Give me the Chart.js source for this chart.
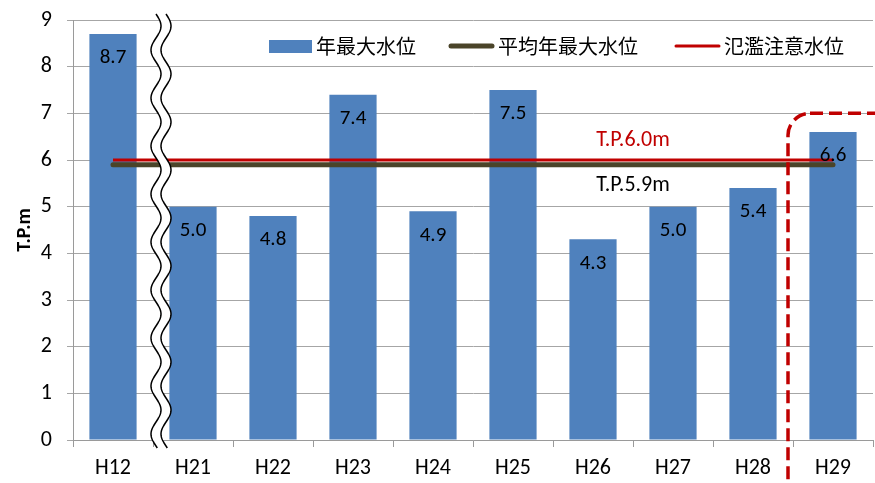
<!DOCTYPE html>
<html>
<head>
<meta charset="utf-8">
<script src="https://cdn.jsdelivr.net/npm/chart.js@4"></script>
<style>
  html, body { margin: 0; padding: 0; background: #fff; }
  #wrap { width: 875px; height: 483px; position: relative; }
</style>
</head>
<body>
<div id="wrap"><canvas id="c" width="875" height="483"></canvas></div>
<script>
// Annual maximum water level by year (T.P. m)
const categories = ['H12', 'H21', 'H22', 'H23', 'H24', 'H25', 'H26', 'H27', 'H28', 'H29'];
const maxLevels = [8.7, 5.0, 4.8, 7.4, 4.9, 7.5, 4.3, 5.0, 5.4, 6.6];
const averageLevel = 5.9;        // average of annual maximum
const floodWarningLevel = 6.0;   // flood warning level
const yTickValues = [0, 1, 2, 3, 4, 5, 6, 7, 8, 9];

const BAR_BLUE = '#4F81BD';
const OLIVE = '#4A4429';
const RED = '#C00000';
const LABEL_FONT = "Carlito, 'Liberation Sans', 'Noto Sans', sans-serif";
const JP_FONT = "'Noto Sans CJK JP', 'Noto Sans', sans-serif";

// Value labels inside the top of each bar
const barLabels = {
  id: 'barLabels',
  afterDatasetsDraw(chart) {
    const ctx = chart.ctx;
    const meta = chart.getDatasetMeta(0);
    ctx.save();
    ctx.font = '21px ' + LABEL_FONT;
    ctx.fillStyle = '#000';
    ctx.textAlign = 'center';
    ctx.textBaseline = 'middle';
    meta.data.forEach((bar, i) => {
      ctx.fillText(maxLevels[i].toFixed(1), bar.x, bar.y + 24);
    });
    ctx.restore();
  }
};

// Level captions, break mark, highlight frame and legend
const decorations = {
  id: 'decorations',
  afterDraw(chart) {
    const ctx = chart.ctx;
    const xs = chart.scales.x;
    const ys = chart.scales.y;
    const area = chart.chartArea;
    const px = i => xs.getPixelForValue(i);

    // captions for the two horizontal levels
    ctx.save();
    ctx.font = '22px ' + LABEL_FONT;
    ctx.textAlign = 'center';
    ctx.textBaseline = 'middle';
    const capX = (px(6) + px(7)) / 2;
    ctx.fillStyle = RED;
    ctx.fillText('T.P.' + floodWarningLevel.toFixed(1) + 'm', capX, ys.getPixelForValue(floodWarningLevel) - 20);
    ctx.fillStyle = '#000';
    ctx.fillText('T.P.' + averageLevel.toFixed(1) + 'm', capX, ys.getPixelForValue(averageLevel) + 21);
    ctx.restore();

    // wavy axis break between H12 and H21
    const cx = (px(0) + px(1)) / 2 + 8;
    const y0 = area.top - 6, y1 = area.bottom + 8;
    const wave = (y, off) => cx + off + 5 * Math.sin((y - y0) / 48 * Math.PI * 2);
    ctx.save();
    ctx.beginPath();
    for (let y = y0; y <= y1; y += 1) {
      const x = wave(y, -5);
      if (y === y0) ctx.moveTo(x, y); else ctx.lineTo(x, y);
    }
    for (let y = y1; y >= y0; y -= 1) ctx.lineTo(wave(y, 5), y);
    ctx.closePath();
    ctx.fillStyle = '#fff';
    ctx.fill();
    ctx.strokeStyle = '#000';
    ctx.lineWidth = 1.5;
    [-5, 5].forEach(off => {
      ctx.beginPath();
      for (let y = y0; y <= y1; y += 1) {
        const x = wave(y, off);
        if (y === y0) ctx.moveTo(x, y); else ctx.lineTo(x, y);
      }
      ctx.stroke();
    });
    ctx.restore();

    // dashed rounded frame around the latest year
    ctx.save();
    const fx = (px(8) + px(9)) / 2 - 5;
    const fy = ys.getPixelForValue(7);
    ctx.strokeStyle = RED;
    ctx.lineWidth = 3.5;
    ctx.setLineDash([13, 6]);
    ctx.beginPath();
    ctx.roundRect(fx, fy, 140, 420, 22);
    ctx.stroke();
    ctx.restore();

    // legend
    ctx.save();
    ctx.font = '20px ' + JP_FONT;
    ctx.fillStyle = '#000';
    ctx.textBaseline = 'middle';
    const ly = 46;
    const ds = chart.data.datasets;
    ctx.fillStyle = ds[0].backgroundColor;
    ctx.fillRect(269, ly - 6, 43, 13);
    ctx.fillStyle = '#000';
    ctx.fillText(ds[0].label, 316, ly);
    ctx.lineCap = 'round';
    ctx.strokeStyle = ds[1].borderColor;
    ctx.lineWidth = 5;
    ctx.beginPath(); ctx.moveTo(451, ly); ctx.lineTo(492, ly); ctx.stroke();
    ctx.fillText(ds[1].label, 498, ly);
    ctx.strokeStyle = ds[2].borderColor;
    ctx.lineWidth = 3;
    ctx.beginPath(); ctx.moveTo(676, ly); ctx.lineTo(719, ly); ctx.stroke();
    ctx.fillText(ds[2].label, 724, ly);
    ctx.restore();
  }
};

new Chart(document.getElementById('c'), {
  data: {
    labels: categories,
    datasets: [
      {
        type: 'bar',
        label: '年最大水位',
        data: maxLevels,
        backgroundColor: BAR_BLUE,
        borderWidth: 0,
        barPercentage: 0.59,
        categoryPercentage: 1.0,
        order: 3
      },
      {
        type: 'line',
        label: '平均年最大水位',
        data: categories.map(() => averageLevel),
        borderColor: OLIVE,
        borderWidth: 5,
        borderCapStyle: 'round',
        pointRadius: 0,
        order: 2
      },
      {
        type: 'line',
        label: '氾濫注意水位',
        data: categories.map(() => floodWarningLevel),
        borderColor: RED,
        borderWidth: 3,
        pointRadius: 0,
        order: 1
      }
    ]
  },
  options: {
    responsive: false,
    animation: false,
    events: [],
    layout: { padding: { top: 20, right: 2, left: 0, bottom: 0 } },
    plugins: {
      legend: { display: false },
      tooltip: { enabled: false },
      title: { display: false }
    },
    scales: {
      x: {
        type: 'category',
        offset: true,
        grid: { offset: true, drawOnChartArea: false, drawTicks: true, tickLength: 7, color: '#9A9A9A' },
        border: { color: '#9A9A9A', width: 1 },
        ticks: { color: '#000', font: { size: 22, family: LABEL_FONT }, padding: 8, maxRotation: 0 },
        afterFit(scale) { scale.height = 43; scale.paddingLeft = 0; scale.paddingRight = 0; }
      },
      y: {
        min: 0,
        max: 9,
        afterBuildTicks(scale) { scale.ticks = yTickValues.map(v => ({ value: v })); },
        grid: { color: '#A6A6A6', tickLength: 6, lineWidth: 1 },
        border: { color: '#9A9A9A', width: 1 },
        ticks: { color: '#000', font: { size: 22, family: LABEL_FONT }, padding: 15 },
        title: {
          display: true,
          text: 'T.P.m',
          color: '#000',
          font: { size: 20, weight: 'bold', family: LABEL_FONT },
          padding: { top: 13, bottom: 0 }
        },
        afterFit(scale) { scale.width = 73; scale.paddingTop = 0; scale.paddingBottom = 0; }
      }
    }
  },
  plugins: [barLabels, decorations]
});
</script>
</body>
</html>
